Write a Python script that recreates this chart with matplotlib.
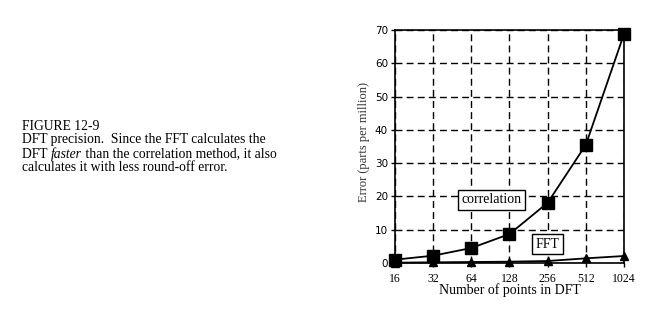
import matplotlib
matplotlib.use("Agg")
import matplotlib.pyplot as plt

plt.rcParams['font.family'] = ['Liberation Serif', 'DejaVu Serif']

n_points = ["16", "32", "64", "128", "256", "512", "1024"]
correlation = [1.0, 2.2, 4.5, 8.7, 18.1, 35.5, 68.8]
fft = [0.1, 0.2, 0.3, 0.4, 0.6, 1.4, 2.1]

fig = plt.figure(figsize=(6.61, 3.16), dpi=100)
W, H = 661, 316
ax = fig.add_axes([395 / W, 1 - 263 / H, (624 - 395) / W, (263 - 30) / H])

x = list(range(len(n_points)))
ax.plot(x, correlation, color='black', lw=1.3, marker='s', ms=8, zorder=3, clip_on=False)
ax.plot(x, fft, color='black', lw=1.3, marker='^', ms=5.5, zorder=3, clip_on=False)

ax.set_xlim(0, 6)
ax.set_ylim(0, 70)
ax.set_xticks(x)
ax.set_xticklabels(n_points)
ax.set_yticks(range(0, 71, 10))
ax.grid(True, color='black', linestyle=(0, (5, 3)), lw=1)
ax.tick_params(direction='out', length=3, width=1)
ax.tick_params(axis='x', labelsize=8.5, pad=4)
ax.tick_params(axis='y', labelsize=7.5, pad=2)
for lab in ax.get_yticklabels():
    lab.set_family('DejaVu Sans')
for s in ax.spines.values():
    s.set_linewidth(1.2)

ax.set_xlabel("Number of points in DFT", fontsize=10, labelpad=-1)
ax.set_ylabel("Error (parts per million)", fontsize=9, color='#333333')
ax.yaxis.set_label_coords(-0.11, 0.52)

ax.text(2.54, 19.0, "correlation", fontsize=10, ha='center', va='center',
        bbox=dict(facecolor='white', edgecolor='black', lw=1, pad=2.5), zorder=4)
ax.text(4.0, 5.7, "FFT", fontsize=10, ha='center', va='center',
        bbox=dict(facecolor='white', edgecolor='black', lw=1, pad=2.5), zorder=4)

fs = 9.8
fig.text(22 / W, 1 - 120 / H, "FIGURE 12-9", fontsize=fs, va='top', ha='left')
fig.text(22 / W, 1 - 133.5 / H, "DFT precision.  Since the FFT calculates the", fontsize=fs, va='top', ha='left')
t1 = fig.text(22 / W, 1 - 147.5 / H, "DFT ", fontsize=fs, va='top', ha='left')
fig.canvas.draw()
r = fig.canvas.get_renderer()
bb = t1.get_window_extent(r)
t2 = fig.text(bb.x1 / W, 1 - 147.5 / H, "faster", fontsize=fs, va='top', ha='left', style='italic')
bb2 = t2.get_window_extent(r)
fig.text(bb2.x1 / W, 1 - 147.5 / H, " than the correlation method, it also", fontsize=fs, va='top', ha='left')
fig.text(22 / W, 1 - 161.5 / H, "calculates it with less round-off error.", fontsize=fs, va='top', ha='left')

fig.savefig("out.png", dpi=100)
